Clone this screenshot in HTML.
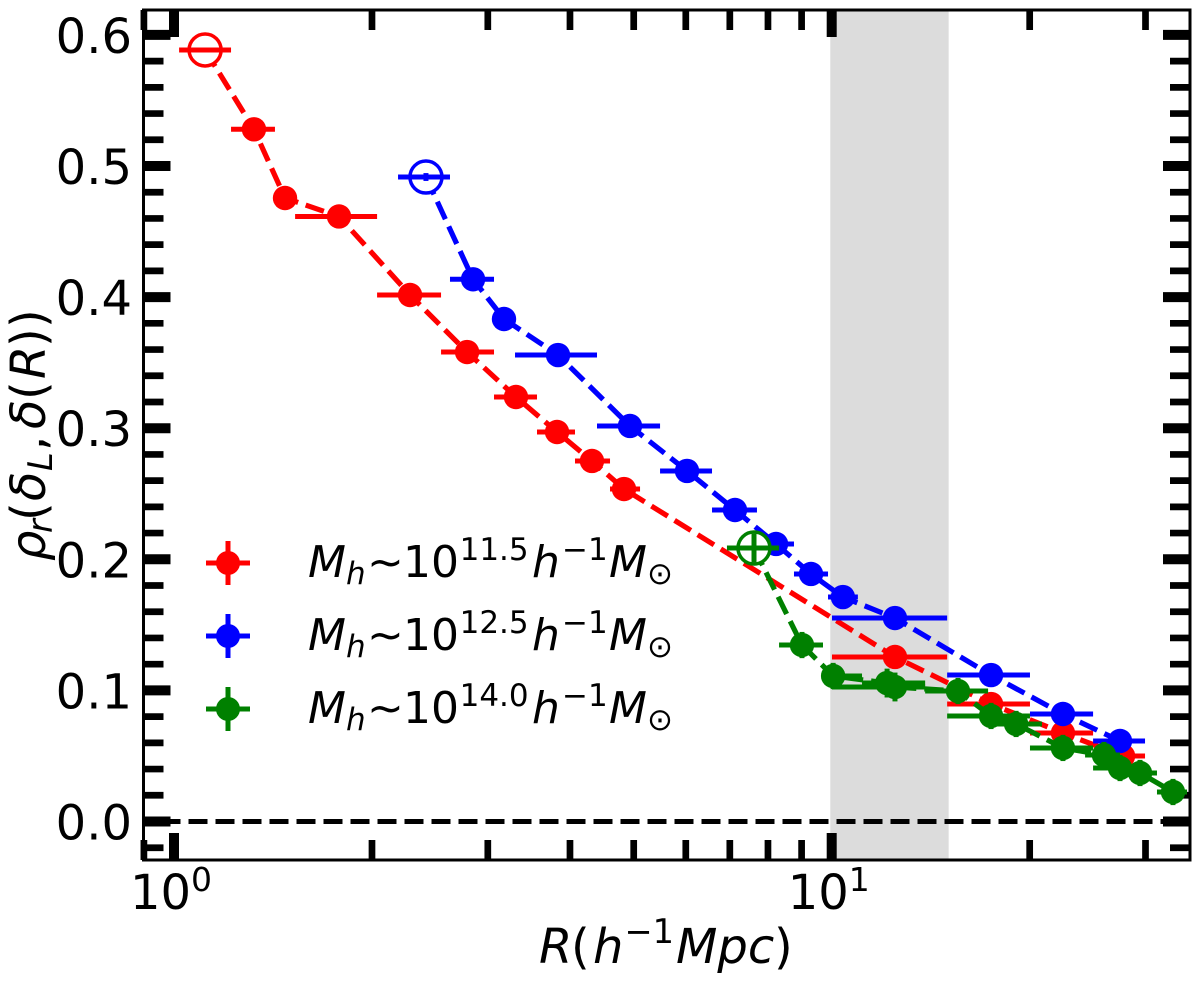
<!DOCTYPE html>
<html lang="en">
<head>
<meta charset="utf-8">
<title>Correlation vs scale</title>
<style>
html,body{margin:0;padding:0;background:#fff;}
svg{display:block;}
text{font-family:"DejaVu Sans","Liberation Sans",sans-serif;fill:#000;}
.m{font-style:italic;}
</style>
</head>
<body>
<svg id="chart" width="1200" height="982" viewBox="0 0 1200 982" xmlns="http://www.w3.org/2000/svg">
  <rect x="0" y="0" width="1200" height="982" fill="#fff"/>
  <g id="band"></g>
  <g id="ticks"></g>
  <g id="zero"></g>
  <g id="series"></g>
  <g id="spines"></g>
  <g id="labels"></g>

  <text transform="translate(45,563) rotate(-90)" font-size="48"><tspan class="m" x="2">ρ</tspan><tspan class="m" x="30" dy="7" font-size="33.6">r</tspan><tspan x="42" dy="-7">(</tspan><tspan class="m" x="62">δ</tspan><tspan class="m" x="92" dy="7" font-size="33.6">L</tspan><tspan x="112" dy="-7">,</tspan><tspan class="m" x="134">δ</tspan><tspan x="163">(</tspan><tspan class="m" x="184">R</tspan><tspan x="216">)</tspan><tspan x="235">)</tspan></text>

  <text y="963" font-size="48"><tspan class="m" x="539">R</tspan><tspan x="571">(</tspan><tspan class="m" x="593">h</tspan><tspan x="624.5" dy="-20" font-size="33.6">−1</tspan><tspan class="m" x="676" dy="20">Mpc</tspan><tspan x="774">)</tspan></text>

  <g id="legend">
    <g>
      <line x1="206" x2="250" y1="563" y2="563" stroke="#f00" stroke-width="5"/><line x1="228" x2="228" y1="541" y2="585" stroke="#f00" stroke-width="5"/><circle cx="228" cy="563" r="12" fill="#f00"/>
      <text y="577" font-size="44"><tspan class="m" x="308">M</tspan><tspan class="m" x="346" dy="7" font-size="31">h</tspan><tspan x="367" dy="-7">~</tspan><tspan x="403">10</tspan><tspan x="459.6" dy="-17" font-size="31">11.5</tspan><tspan class="m" x="532" dy="17">h</tspan><tspan x="562" dy="-17" font-size="31">−1</tspan><tspan class="m" x="609" dy="17">M</tspan><tspan x="647" dy="7" font-size="31">⊙</tspan></text>
    </g>
    <g>
      <line x1="206" x2="250" y1="636" y2="636" stroke="#00f" stroke-width="5"/><line x1="228" x2="228" y1="614" y2="658" stroke="#00f" stroke-width="5"/><circle cx="228" cy="636" r="12" fill="#00f"/>
      <text y="650" font-size="44"><tspan class="m" x="308">M</tspan><tspan class="m" x="346" dy="7" font-size="31">h</tspan><tspan x="367" dy="-7">~</tspan><tspan x="403">10</tspan><tspan x="459.6" dy="-17" font-size="31">12.5</tspan><tspan class="m" x="532" dy="17">h</tspan><tspan x="562" dy="-17" font-size="31">−1</tspan><tspan class="m" x="609" dy="17">M</tspan><tspan x="647" dy="7" font-size="31">⊙</tspan></text>
    </g>
    <g>
      <line x1="206" x2="250" y1="709" y2="709" stroke="#008000" stroke-width="5"/><line x1="228" x2="228" y1="687" y2="731" stroke="#008000" stroke-width="5"/><circle cx="228" cy="709" r="12" fill="#008000"/>
      <text y="723" font-size="44"><tspan class="m" x="308">M</tspan><tspan class="m" x="346" dy="7" font-size="31">h</tspan><tspan x="367" dy="-7">~</tspan><tspan x="403">10</tspan><tspan x="459.6" dy="-17" font-size="31">14.0</tspan><tspan class="m" x="532" dy="17">h</tspan><tspan x="562" dy="-17" font-size="31">−1</tspan><tspan class="m" x="609" dy="17">M</tspan><tspan x="647" dy="7" font-size="31">⊙</tspan></text>
    </g>
  </g>
</svg>
<script>
// ---- Data ----
const redR    = [1.115,1.323,1.475,1.782,2.285,2.790,3.311,3.823,4.320,4.833,12.48,17.47,22.47,27.73];
const redLow  = [1.018,1.221,1.424,1.528,2.036,2.547,3.066,3.564,4.071,4.602,10.01,14.98,20.02,24.97];
const redHigh = [1.221,1.424,1.528,2.036,2.547,3.066,3.564,4.071,4.602,5.112,14.98,20.02,24.97,29.95];
const redRho  = [.5885,.5280,.4756,.4615,.4016,.3581,.3238,.2971,.2750,.2536,.1255,.0896,.0675,.0500];
const redErr  = [.001,.001,.001,.001,.001,.001,.001,.001,.001,.001,.001,.001,.001,.001];

const blueR    = [2.416,2.849,3.175,3.836,4.935,6.026,7.128,8.229,9.301,10.40,12.48,17.47,22.47,27.44];
const blueLow  = [2.191,2.628,3.066,3.300,4.397,5.483,6.577,7.698,8.763,9.872,10.01,14.98,20.02,24.97];
const blueHigh = [2.628,3.066,3.300,4.397,5.483,6.577,7.698,8.763,9.872,10.96,14.98,20.02,24.97,29.95];
const blueRho  = [.4916,.4136,.3833,.3558,.3017,.2674,.2376,.2117,.1888,.1712,.1552,.1117,.0820,.0614];
const blueErr  = [.003,.002,.002,.002,.002,.002,.002,.002,.002,.002,.002,.002,.002,.002];

const greenR    = [7.618,9.012,10.05,12.14,12.48,15.56,17.47,19.07,22.47,25.94,27.44,29.43,33.03];
const greenLow  = [6.93,8.317,9.700,11.12,10.01,13.87,14.98,17.29,20.02,24.28,24.97,27.44,31.23];
const greenHigh = [8.317,9.700,11.12,13.87,13.87,17.29,20.02,20.88,24.97,27.44,29.95,31.23,34.69];
const greenRho  = [.2086,.1346,.1110,.1056,.1026,.0995,.0805,.0744,.0561,.0507,.0408,.0370,.0225];
const greenErr  = [.011,.010,.010,.011,.011,.010,.010,.010,.010,.010,.010,.010,.010];

const yMajorTicks = [0,0.1,0.2,0.3,0.4,0.5,0.6];
const yMinorTicks = [-0.02,0.02,0.04,0.06,0.08,0.12,0.14,0.16,0.18,0.22,0.24,0.26,0.28,0.32,0.34,0.36,0.38,0.42,0.44,0.46,0.48,0.52,0.54,0.56,0.58];
const yTickLabels = ["0.0","0.1","0.2","0.3","0.4","0.5","0.6"];
const xMajorTicks = [1,10];
const xMinorTicks = [0.9,2,3,4,5,6,7,8,9,20,30];
const xTickExponents = ["0","1"];
const bandRange = [9.95,15.06];

// ---- Axis functions ----
const LEFT=143.5, RIGHT=1190, TOP=10, BOTTOM=860;
function xs(r){ return 174 + 657.7*Math.log10(r); }
function ys(v){ return 821.5 - 1311*v; }

const NS='http://www.w3.org/2000/svg';
function mk(tag,attrs,parent){
  const e=document.createElementNS(NS,tag);
  for(const k in attrs) e.setAttribute(k,attrs[k]);
  parent.appendChild(e);
  return e;
}

// Shaded band
const bandEl=mk('rect',{x:xs(bandRange[0]),y:TOP,width:xs(bandRange[1])-xs(bandRange[0]),height:BOTTOM-TOP,fill:'#dcdcdc'},document.getElementById('band'));



// Ticks
const tickG=document.getElementById('ticks');
function xTick(r,len,w,name){
  const x=xs(r);
  const b=mk('line',{x1:x,x2:x,y1:BOTTOM,y2:BOTTOM-len,stroke:'#000','stroke-width':w},tickG);
  
  
  const t=mk('line',{x1:x,x2:x,y1:TOP,y2:TOP+len,stroke:'#000','stroke-width':w},tickG);
  
  
}
function yTick(v,len,w,name){
  const y=ys(v);
  const l=mk('line',{x1:LEFT,x2:LEFT+len,y1:y,y2:y,stroke:'#000','stroke-width':w},tickG);
  
  
  const r=mk('line',{x1:RIGHT,x2:RIGHT-len,y1:y,y2:y,stroke:'#000','stroke-width':w},tickG);
  
  
}
xMajorTicks.forEach(r=>xTick(r,27,10,'x-major-tick'));
xMinorTicks.forEach(r=>xTick(r,20,6.7,'x-minor-tick'));
yMajorTicks.forEach(v=>yTick(v,27,10,'y-major-tick'));
yMinorTicks.forEach(v=>yTick(v,20,6.7,'y-minor-tick'));

// Zero line
const zeroEl=mk('line',{x1:LEFT,x2:RIGHT,y1:ys(0),y2:ys(0),stroke:'#000','stroke-width':5,'stroke-dasharray':'19 8','stroke-dashoffset':9},document.getElementById('zero'));



// Series
const seriesG=document.getElementById('series');
function drawSeries(name,color,R,low,high,rho,err){
  const g=mk('g',{},seriesG);
  
  
  const pts=R.map((r,i)=>xs(r)+','+ys(rho[i])).join(' ');
  const pl=mk('polyline',{points:pts,fill:'none',stroke:color,'stroke-width':5.2,'stroke-dasharray':'19.2 8'},g);
  
  
  R.forEach((r,i)=>{
    const cx=xs(r), cy=ys(rho[i]);
    const open=i===0;
    const c=open
      ? mk('circle',{cx:cx,cy:cy,r:16,fill:'#fff',stroke:color,'stroke-width':3.5},g)
      : mk('circle',{cx:cx,cy:cy,r:12.2,fill:color},g);
    
    
    const h=mk('line',{x1:xs(low[i]),x2:xs(high[i]),y1:cy,y2:cy,stroke:color,'stroke-width':5},g);
    
    
    const v=mk('line',{x1:cx,x2:cx,y1:ys(rho[i]+err[i]),y2:ys(rho[i]-err[i]),stroke:color,'stroke-width':5},g);
    
    
  });
}
drawSeries('red','#f00',redR,redLow,redHigh,redRho,redErr);
drawSeries('blue','#00f',blueR,blueLow,blueHigh,blueRho,blueErr);
drawSeries('green','#008000',greenR,greenLow,greenHigh,greenRho,greenErr);

// Spines
const spineEl=mk('rect',{x:LEFT,y:TOP,width:RIGHT-LEFT,height:BOTTOM-TOP,fill:'none',stroke:'#000','stroke-width':3},document.getElementById('spines'));



// Tick labels
const labelG=document.getElementById('labels');
yMajorTicks.forEach((v,i)=>{
  const t=mk('text',{x:132,y:ys(v)+18,'font-size':48,'text-anchor':'end'},labelG);
  t.textContent=yTickLabels[i];
  
  
});
xMajorTicks.forEach((r,i)=>{
  const x=xs(r);
  const t=mk('text',{x:x-44,y:909,'font-size':48},labelG);
  t.textContent='10';
  
  
  const s=mk('text',{x:x+17,y:891,'font-size':33},labelG);
  s.textContent=xTickExponents[i];
  
  
});
</script>
</body>
</html>
